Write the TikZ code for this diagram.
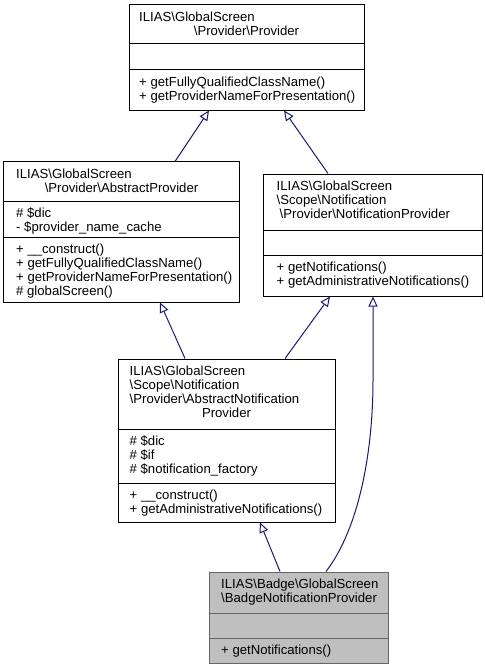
\documentclass[tikz,border=0pt]{standalone}
\usepackage{fontspec}
\setmainfont{Liberation Sans}
\usetikzlibrary{arrows.meta}
\definecolor{edgeblue}{HTML}{191970}
\definecolor{hlfill}{HTML}{BFBFBF}
\definecolor{hldraw}{HTML}{666666}
\begin{document}
\begin{tikzpicture}[x=1bp,y=-1bp,
  box/.style={draw=black, line width=1bp, fill=white, inner sep=0pt, rectangle},
  hlbox/.style={draw=hldraw, fill=hlfill, line width=1bp, inner sep=0pt, rectangle},
  sep/.style={line width=1bp, draw=black},
  hlsep/.style={line width=1bp, draw=hldraw},
  txt/.style={inner sep=0pt, font=\fontsize{13.2}{14}\selectfont, align=left, anchor=north west},
  ctr/.style={inner sep=0pt, font=\fontsize{13.2}{14}\selectfont, anchor=north},
  edge/.style={draw=edgeblue, line width=1bp, -{Triangle[open, length=10bp, width=9bp]}}]
\useasboundingbox (0,0) rectangle (485,669);

% Box 1: Provider
\node[box, minimum width=235bp, minimum height=105bp] (b1) at (246.5,57.5) {};
\draw[sep] (b1.west |- 0,44) -- (b1.east |- 0,44);
\draw[sep] (b1.west |- 0,70) -- (b1.east |- 0,70);
\node[txt] (b1t) at (139,11.7) {\strut ILIAS\textbackslash GlobalScreen};
\node[ctr] (b1t2) at (246.5,25.7) {\strut\textbackslash Provider\textbackslash Provider};
\node[txt] (b1m) at (139,76.7) {\strut + getFullyQualifiedClassName()\\\strut + getProviderNameForPresentation()};

% Box 2: AbstractProvider
\node[box, minimum width=235bp, minimum height=140bp] (b2) at (121.5,232) {};
\draw[sep] (b2.west |- 0,201) -- (b2.east |- 0,201);
\draw[sep] (b2.west |- 0,237) -- (b2.east |- 0,237);
\node[txt] (b2t) at (16,168.7) {\strut ILIAS\textbackslash GlobalScreen};
\node[ctr] (b2t2) at (121.5,182.7) {\strut\textbackslash Provider\textbackslash AbstractProvider};
\node[txt] (b2a) at (16,207.7) {\strut \# \$dic\\\strut - \$provider\_name\_cache};
\node[txt] (b2m) at (16,243.7) {\strut + \_\_construct()\\\strut + getFullyQualifiedClassName()\\\strut + getProviderNameForPresentation()\\\strut \# globalScreen()};

% Box 3: NotificationProvider
\node[box, minimum width=219bp, minimum height=122bp] (b3) at (372.5,235) {};
\draw[sep] (b3.west |- 0,230) -- (b3.east |- 0,230);
\draw[sep] (b3.west |- 0,255) -- (b3.east |- 0,255);
\node[txt] (b3t) at (276.5,180.7) {\strut ILIAS\textbackslash GlobalScreen\\\strut\textbackslash Scope\textbackslash Notification};
\node[txt] (b3t2) at (279.5,208.7) {\strut\textbackslash Provider\textbackslash NotificationProvider};
\node[txt] (b3m) at (276.5,261.7) {\strut + getNotifications()\\\strut + getAdministrativeNotifications()};

% Box 4: AbstractNotificationProvider
\node[box, minimum width=217bp, minimum height=163bp] (b4) at (226.5,440.5) {};
\draw[sep] (b4.west |- 0,429) -- (b4.east |- 0,429);
\draw[sep] (b4.west |- 0,483) -- (b4.east |- 0,483);
\node[txt] (b4t) at (129.5,365.7) {\strut ILIAS\textbackslash GlobalScreen\\\strut\textbackslash Scope\textbackslash Notification\\\strut\textbackslash Provider\textbackslash AbstractNotification};
\node[ctr] (b4t2) at (226.5,407.7) {\strut Provider};
\node[txt] (b4a) at (129.5,435.7) {\strut \# \$dic\\\strut \# \$if\\\strut \# \$notification\_factory};
\node[txt] (b4m) at (129.5,489.7) {\strut + \_\_construct()\\\strut + getAdministrativeNotifications()};

% Box 5: BadgeNotificationProvider
\node[hlbox, minimum width=179bp, minimum height=91bp] (b5) at (298.5,617.5) {};
\draw[hlsep] (b5.west |- 0,613) -- (b5.east |- 0,613);
\draw[hlsep] (b5.west |- 0,638) -- (b5.east |- 0,638);
\node[txt] (b5t) at (221,578.7) {\strut ILIAS\textbackslash Badge\textbackslash GlobalScreen\\\strut\textbackslash BadgeNotificationProvider};
\node[txt] (b5m) at (221,644.7) {\strut + getNotifications()};

% Edges
\draw[edge] (b2.north -| 175,0) -- (b1.south -| 209,0);
\draw[edge] (b3.north -| 328,0) -- (b1.south -| 284,0);
\draw[edge] (b4.north -| 185,0) -- (b2.south -| 160,0);
\draw[edge] (b4.north -| 285,0) -- (b3.south -| 330,0);
\draw[edge] (b5.north -| 280,0) -- (b4.south -| 260,0);
\draw[edge] (b5.north -| 326,0) .. controls (358,530) and (373,455) .. (373,380) -- (b3.south -| 373,0);
\end{tikzpicture}
\end{document}
